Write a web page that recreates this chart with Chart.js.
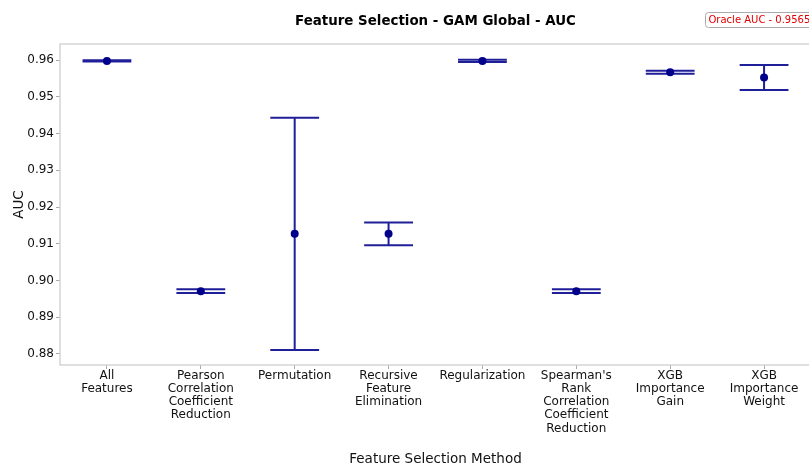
<!DOCTYPE html>
<html>
<head>
<meta charset="utf-8">
<script src="https://cdn.jsdelivr.net/npm/chart.js@4.4.1/dist/chart.umd.min.js"></script>
<style>
  html, body { margin: 0; padding: 0; overflow: hidden; background: #fff; }
</style>
</head>
<body>
<canvas id="chart" width="815" height="466"></canvas>
<script>
// data
const methods = [
  ['All', 'Features'],
  ['Pearson', 'Correlation', 'Coefficient', 'Reduction'],
  ['Permutation'],
  ['Recursive', 'Feature', 'Elimination'],
  ['Regularization'],
  ["Spearman's", 'Rank', 'Correlation', 'Coefficient', 'Reduction'],
  ['XGB', 'Importance', 'Gain'],
  ['XGB', 'Importance', 'Weight']
];
const meanAuc = [0.9598, 0.8971, 0.9127, 0.9127, 0.9598, 0.8971, 0.9567, 0.9553];
const errAuc = [0.0002, 0.0005, 0.0316, 0.0031, 0.0003, 0.0005, 0.0004, 0.0034];
const yTicks = [0.88, 0.89, 0.90, 0.91, 0.92, 0.93, 0.94, 0.95, 0.96];
const oracleAuc = 0.9565;

const pointColor = '#00008b';
const barColor = 'rgba(0, 0, 139, 0.88)';
const textColor = '#111111';
const font = 'DejaVu Sans';

// error bars, drawn under the points
const errorBars = {
  id: 'errorBars',
  beforeDatasetsDraw(chart) {
    const { ctx, scales: { x, y } } = chart;
    const half = (x.getPixelForValue(1) - x.getPixelForValue(0)) * 0.26;
    ctx.save();
    ctx.strokeStyle = barColor;
    ctx.lineWidth = 2;
    meanAuc.forEach((m, i) => {
      const px = x.getPixelForValue(i);
      const top = y.getPixelForValue(m + errAuc[i]);
      const bot = y.getPixelForValue(m - errAuc[i]);
      ctx.beginPath();
      ctx.moveTo(px, top); ctx.lineTo(px, bot);
      ctx.moveTo(px - half, top); ctx.lineTo(px + half, top);
      ctx.moveTo(px - half, bot); ctx.lineTo(px + half, bot);
      ctx.stroke();
    });
    ctx.restore();
  }
};

// light frame round the plot + oracle box
const frame = {
  id: 'frame',
  afterDraw(chart) {
    const { ctx, chartArea: a } = chart;
    ctx.save();
    ctx.strokeStyle = '#cccccc';
    ctx.lineWidth = 1.25;
    ctx.strokeRect(a.left, a.top, a.right - a.left, a.bottom - a.top);

    const label = 'Oracle AUC - ' + oracleAuc.toFixed(4);
    ctx.font = '10px "' + font + '"';
    const w = ctx.measureText(label).width + 8;
    ctx.beginPath();
    ctx.roundRect(705.5, 12.5, w, 15, 3);
    ctx.fillStyle = '#fff';
    ctx.fill();
    ctx.strokeStyle = '#aaaaaa';
    ctx.lineWidth = 1;
    ctx.stroke();
    ctx.fillStyle = '#e00000';
    ctx.textBaseline = 'middle';
    ctx.fillText(label, 708.5, 20.5);
    ctx.restore();
  }
};

const ctx = document.getElementById('chart').getContext('2d');
const mychart = new Chart(ctx, {
  type: 'line',
  data: {
    labels: methods,
    datasets: [{
      data: meanAuc,
      showLine: false,
      pointRadius: 4,
      pointHoverRadius: 4,
      pointBackgroundColor: pointColor,
      pointBorderColor: pointColor,
      pointBorderWidth: 0
    }]
  },
  options: {
    responsive: false,
    animation: false,
    devicePixelRatio: 1,
    layout: { padding: 0 },
    plugins: {
      legend: { display: false },
      tooltip: { enabled: false },
      title: {
        display: true,
        fullSize: false,
        text: 'Feature Selection - GAM Global - AUC',
        color: '#000',
        font: { family: font, size: 13.4, weight: 'bold', lineHeight: 1.2 },
        padding: { top: 13, bottom: 14.9 }
      }
    },
    scales: {
      x: {
        offset: true,
        border: { display: false },
        grid: { drawOnChartArea: false, tickLength: 4, color: '#aaaaaa', offset: false },
        ticks: {
          autoSkip: false,
          maxRotation: 0,
          padding: 0,
          color: textColor,
          font: { family: font, size: 12, lineHeight: 1.1 }
        },
        title: {
          display: true,
          text: 'Feature Selection Method',
          color: textColor,
          font: { family: font, size: 13.5, lineHeight: 1 },
          padding: { top: 0, bottom: 0 }
        },
        afterFit(scale) { scale.height = 101; }
      },
      y: {
        min: 0.877,
        max: 0.9644,
        border: { display: false },
        grid: { drawOnChartArea: false, tickLength: 4, color: '#aaaaaa' },
        afterBuildTicks(scale) { scale.ticks = yTicks.map(v => ({ value: v })); },
        ticks: {
          padding: 2,
          color: textColor,
          font: { family: font, size: 12 },
          callback: v => v.toFixed(2)
        },
        title: {
          display: true,
          text: 'AUC',
          color: textColor,
          font: { family: font, size: 13.5, lineHeight: 1 },
          padding: { top: 13, bottom: 0 }
        },
        afterFit(scale) { scale.width = 60; }
      }
    }
  },
  plugins: [errorBars, frame]
});
</script>
</body>
</html>
